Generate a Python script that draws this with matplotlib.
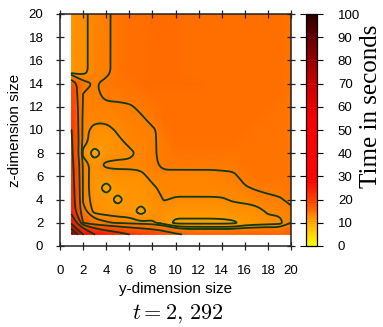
import numpy as np
import matplotlib
matplotlib.use("Agg")
import matplotlib.pyplot as plt
from matplotlib.colors import LinearSegmentedColormap

# y-dimension size (columns) and z-dimension size (rows)
y_sizes = np.arange(1, 21)
z_sizes = np.arange(1, 21)

# time in seconds, rows listed from z=20 down to z=1
row_top = [12.3, 12.6, 13.6, 13.7, 14.5, 15.1, 15.2, 15.3, 15.3, 15.3, 15.2, 15.2, 15.1, 15.1, 15.0, 15.0, 15.0, 14.9, 14.9, 14.8]
times = [
    row_top,  # z=20
    row_top,  # z=19
    row_top,  # z=18
    row_top,  # z=17
    row_top,  # z=16
    row_top,  # z=15
    [19.0, 14.5, 13.9, 14.3, 14.6, 14.8, 15.0, 15.4, 15.4, 15.4, 15.4, 15.3, 15.2, 15.1, 15.0, 15.0, 14.9, 14.9, 14.9, 14.8],
    [20.0, 13.9, 13.7, 14.3, 14.4, 14.6, 14.8, 15.0, 15.2, 15.2, 15.2, 15.2, 15.1, 15.0, 15.0, 15.0, 14.9, 14.9, 14.9, 14.8],
    [21.0, 13.8, 13.6, 13.7, 13.7, 13.8, 14.3, 14.8, 15.0, 15.1, 15.1, 15.1, 15.0, 15.0, 15.0, 14.9, 14.9, 14.9, 14.8, 14.8],
    [21.5, 13.6, 13.3, 13.4, 13.5, 13.7, 13.8, 14.4, 15.0, 15.0, 15.0, 15.0, 15.0, 15.0, 14.9, 14.9, 14.9, 14.8, 14.8, 14.8],
    [22.0, 13.4, 12.6, 12.5, 13.2, 13.5, 13.7, 13.8, 14.5, 15.0, 15.0, 15.0, 15.0, 14.9, 14.9, 14.9, 14.8, 14.8, 14.8, 14.7],
    [22.5, 13.5, 12.3, 12.3, 12.7, 13.3, 13.6, 13.8, 14.4, 14.9, 15.0, 15.0, 14.9, 14.9, 14.9, 14.8, 14.8, 14.8, 14.7, 14.7],
    [23.0, 12.6, 10.7, 12.2, 12.6, 12.7, 13.3, 13.8, 14.4, 14.6, 14.7, 14.8, 14.8, 14.8, 14.8, 14.8, 14.7, 14.7, 14.7, 14.7],
    [23.5, 13.8, 12.3, 13.3, 13.3, 13.3, 13.3, 13.7, 14.3, 14.3, 14.3, 14.3, 14.3, 14.3, 14.3, 14.5, 14.6, 14.6, 14.6, 14.7],
    [24.0, 13.8, 12.2, 12.2, 12.5, 12.5, 12.7, 13.3, 13.6, 13.6, 13.6, 13.6, 13.6, 13.7, 13.8, 14.3, 14.6, 14.6, 14.7, 14.8],
    [24.5, 13.8, 12.2, 10.8, 12.2, 12.3, 12.4, 12.8, 13.3, 13.3, 13.3, 13.3, 13.3, 13.4, 13.5, 13.9, 14.1, 14.2, 14.3, 14.5],
    [25.0, 13.8, 12.4, 12.2, 10.9, 12.2, 12.2, 12.5, 13.05, 12.9, 12.9, 12.9, 12.9, 12.9, 13.1, 13.2, 13.6, 13.8, 13.9, 14.2],
    [26.0, 14.5, 12.6, 12.4, 12.3, 12.3, 10.7, 12.3, 12.5, 12.2, 12.2, 12.2, 12.2, 12.3, 12.6, 12.6, 12.5, 13.2, 13.3, 13.8],
    [40.0, 17.0, 14.8, 14.2, 13.8, 13.6, 13.3, 13.2, 12.4, 11.1, 11.1, 11.1, 11.1, 11.1, 11.2, 12.0, 12.3, 12.5, 12.6, 14.0],
    [85.0, 45.0, 30.0, 26.0, 24.0, 22.0, 21.0, 20.0, 19.0, 17.5, 16.5, 16.5, 16.5, 16.5, 16.5, 16.5, 16.5, 16.5, 16.3, 17.0],  # z=1
]
contour_levels = [11.5, 13, 14, 17, 22, 30, 45, 65]
cbar_ticks = list(range(0, 101, 10))
axis_ticks = list(range(0, 21, 2))

Z = np.array(times)[::-1]
Y, ZZ = np.meshgrid(y_sizes, z_sizes)

nodes = [(0.0, (1, 1, 0)), (0.06, (1, 0.8, 0)), (0.12, (1, 0.59, 0)),
         (0.15, (1, 0.43, 0)), (0.20, (1, 0.24, 0)), (0.28, (1, 0.02, 0)),
         (0.55, (0.97, 0, 0)), (0.70, (0.8, 0, 0)), (0.85, (0.5, 0, 0)),
         (1.0, (0.18, 0, 0))]
cmap = LinearSegmentedColormap.from_list("time", nodes)


def chaikin(pts, closed, n=3):
    # corner cutting, like gnuplot's bspline contours
    for _ in range(n):
        if closed:
            p = pts[:-1]
            q = np.roll(p, -1, axis=0)
            new = np.empty((2 * len(p), 2))
            new[0::2] = 0.75 * p + 0.25 * q
            new[1::2] = 0.25 * p + 0.75 * q
            pts = np.vstack([new, new[:1]])
        else:
            p, q = pts[:-1], pts[1:]
            new = np.empty((2 * len(p), 2))
            new[0::2] = 0.75 * p + 0.25 * q
            new[1::2] = 0.25 * p + 0.75 * q
            pts = np.vstack([pts[:1], new, pts[-1:]])
    return pts


fig = plt.figure(figsize=(3.83, 3.27), dpi=100)
ax = fig.add_axes([60 / 383, 1 - 246 / 327, 231 / 383, 232 / 327])
cax = fig.add_axes([306 / 383, 1 - 246 / 327, 11 / 383, 232 / 327])

mesh = ax.pcolormesh(Y, ZZ, Z, cmap=cmap, vmin=0, vmax=100, shading="gouraud")
cs = ax.contour(Y, ZZ, Z, levels=contour_levels)
segs = [s for level in cs.allsegs for s in level]
cs.remove()
for s in segs:
    if len(s) < 2:
        continue
    closed = np.allclose(s[0], s[-1])
    sm = chaikin(np.asarray(s), closed)
    ax.plot(sm[:, 0], sm[:, 1], color="#0e3a0e", lw=1.3, solid_capstyle="round")

ax.set_xlim(0, 20)
ax.set_ylim(0, 20)
ax.set_xticks(axis_ticks)
ax.set_yticks(axis_ticks)
ax.tick_params(which="both", top=True, right=True, direction="inout", length=6,
               labelsize=9.5, width=0.9, colors="#222222")
ax.tick_params(axis="x", pad=11)
ax.tick_params(axis="y", pad=9)
for lab in ax.get_xticklabels() + ax.get_yticklabels():
    lab.set_fontfamily("Liberation Sans")
    lab.set_color("black")
for sp in ax.spines.values():
    sp.set_linewidth(1.1)
    sp.set_color("#222222")
ax.set_xlabel("y-dimension size", fontsize=11, family="Liberation Sans", labelpad=3)
ax.set_ylabel("z-dimension size", fontsize=11, family="Liberation Sans", labelpad=5)

cb = fig.colorbar(mesh, cax=cax, ticks=cbar_ticks)
cb.outline.set_linewidth(0.9)
cax.yaxis.set_ticks_position("both")
cax.tick_params(direction="out", length=4, labelsize=9.5, width=0.8, pad=11)
cax.yaxis.set_tick_params(labelleft=False, labelright=True)
for lab in cax.get_yticklabels():
    lab.set_fontfamily("Liberation Sans")

fig.text(371 / 383, 1 - 106 / 327, "Time in seconds", fontsize=18,
         family="Liberation Serif", rotation=90, ha="center", va="center")
fig.text(178 / 383, 1 - 314 / 327, r"$t = 2,\,292$", fontsize=16,
         ha="center", va="center", math_fontfamily="cm")

fig.savefig("out.png", dpi=100)
